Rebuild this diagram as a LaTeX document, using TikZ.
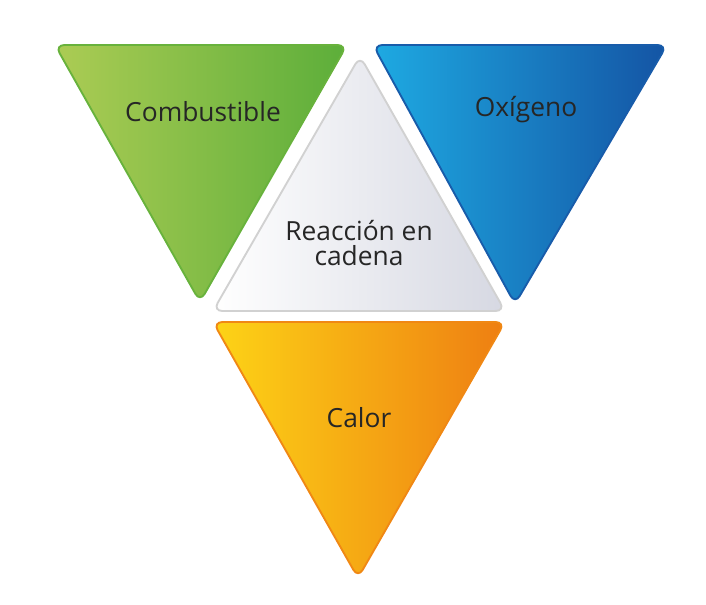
\documentclass[tikz,border=0pt]{standalone}
\usepackage{fontspec}
\setmainfont{Open Sans}
\begin{document}
\begin{tikzpicture}[x=0.03cm,y=-0.03cm,
  tri/.style={rounded corners=8pt,line width=1.6pt},
  lbl/.style={font=\fontsize{22.5}{26}\selectfont,text=black!85,align=center}]
\useasboundingbox (0,0) rectangle (706,604);
% green
\shade[tri,left color={rgb,255:red,172;green,204;blue,84},right color={rgb,255:red,92;green,174;blue,58},draw={rgb,255:red,104;green,178;blue,60}]
 (55,45)--(347,45)--(200,302)--cycle;
% blue
\shade[tri,left color={rgb,255:red,30;green,170;blue,226},right color={rgb,255:red,20;green,84;blue,164},draw={rgb,255:red,24;green,92;blue,170}]
 (373,45)--(667,45)--(515,304)--cycle;
% white
\shade[tri,left color=white,right color={rgb,255:red,214;green,216;blue,226},draw=black!18]
 (213,311)--(505,311)--(360,56)--cycle;
% orange
\shade[tri,left color={rgb,255:red,253;green,212;blue,22},right color={rgb,255:red,238;green,126;blue,18},draw={rgb,255:red,240;green,136;blue,20}]
 (213,322)--(505,322)--(358,578)--cycle;
\node[lbl] (comb) at (203,112) {Combustible};
\node[lbl] (oxi) at (526,110) {Oxígeno};
\node[lbl] (reac) at (359,243) {Reacción en\\[-4pt]cadena};
\node[lbl] (cal) at (359,418) {Calor};
\end{tikzpicture}
\end{document}
